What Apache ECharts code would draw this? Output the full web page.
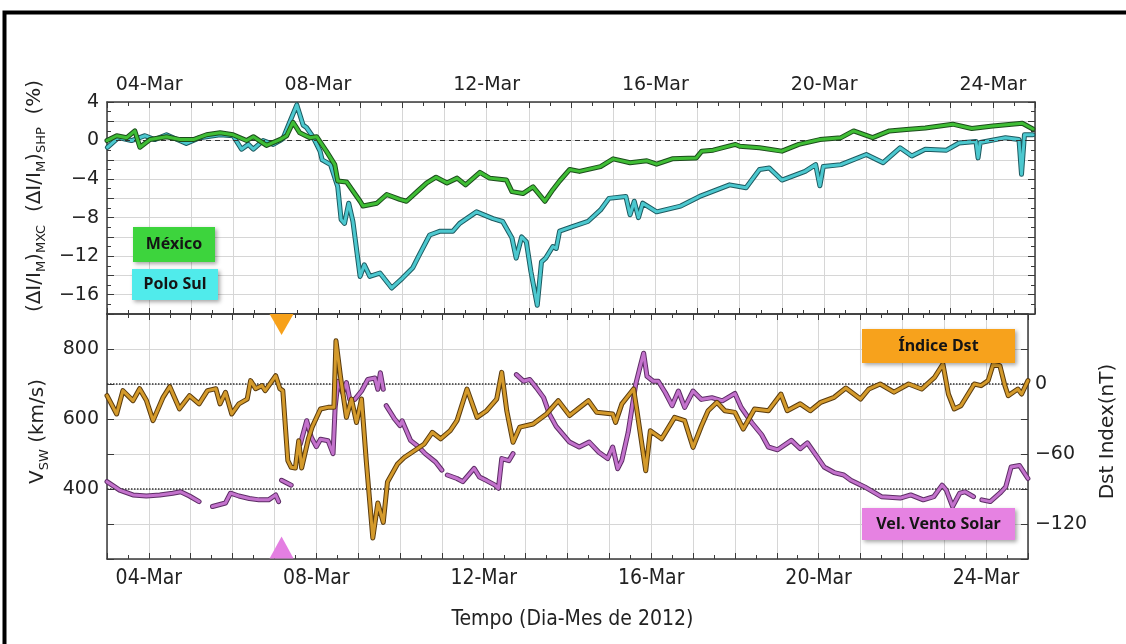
<!DOCTYPE html>
<html>
<head>
<meta charset="UTF-8">
<title>Raios cósmicos, Dst e vento solar - março de 2012</title>
<script src="https://cdn.jsdelivr.net/npm/echarts@6/dist/echarts.min.js"></script>
<style>
html, body{
	margin:0;
	padding:0;
	background:#fff;
}
#grafico{
	width:1126px;
	height:644px;
}
</style>
</head>
<body>
<div id="grafico"></div>
<script>
// dia de março (fracionário) e valor de cada curva
var mexDia = [3.00,3.23,3.47,3.66,3.78,4.02,4.41,4.73,5.05,5.36,5.68,5.99,6.31,6.47,6.78,7.10,7.26,7.41,7.57,7.81,7.97,8.20,8.40,8.47,8.68,9.00,9.07,9.40,9.63,9.94,10.10,10.35,10.58,10.80,11.06,11.30,11.50,11.84,12.07,12.47,12.60,12.86,13.10,13.38,13.57,13.73,13.97,14.20,14.70,15.00,15.40,15.80,16.03,16.40,16.97,17.10,17.37,17.90,18.00,18.47,19.00,19.40,19.90,20.40,20.70,21.15,21.55,21.95,22.40,23.05,23.50,24.00,24.70,24.95];
var mexVal = [0.0,0.5,0.3,1.0,-0.7,0.1,0.4,0.1,0.1,0.6,0.8,0.6,0.0,0.4,-0.5,0.1,0.5,1.9,0.8,0.3,0.4,-1.1,-2.5,-4.2,-4.3,-6.3,-6.8,-6.5,-5.6,-6.1,-6.3,-5.3,-4.4,-3.8,-4.4,-3.9,-4.6,-3.3,-3.9,-4.1,-5.3,-5.5,-4.8,-6.3,-5.1,-4.2,-3.0,-3.2,-2.7,-1.9,-2.3,-2.1,-2.45,-1.9,-1.8,-1.1,-1.0,-0.4,-0.6,-0.75,-1.1,-0.4,0.1,0.3,1.0,0.3,1.0,1.15,1.3,1.7,1.25,1.5,1.8,1.2];

var psDia = [3.01,3.27,3.58,3.90,4.13,4.41,4.88,5.20,5.68,5.99,6.19,6.35,6.47,6.70,6.94,7.10,7.17,7.33,7.50,7.65,7.73,7.88,8.05,8.10,8.30,8.47,8.55,8.63,8.73,8.83,9.00,9.10,9.23,9.47,9.75,10.00,10.25,10.40,10.65,10.90,11.20,11.36,11.76,12.15,12.38,12.60,12.70,12.83,12.94,13.05,13.20,13.30,13.40,13.57,13.65,13.73,14.05,14.40,14.70,14.90,15.30,15.40,15.50,15.60,15.70,16.03,16.60,17.05,17.76,18.15,18.47,18.70,19.00,19.55,19.80,19.90,19.98,20.40,21.00,21.40,21.80,22.08,22.40,22.90,23.20,23.60,23.65,23.70,24.30,24.62,24.68,24.75,24.95];
var psVal = [-0.7,0.3,0.0,0.5,0.1,0.6,-0.3,0.3,0.6,0.5,-0.9,-0.4,-0.9,0.0,-0.4,0.0,0.2,1.9,3.7,1.6,1.35,0.4,-1.1,-2.0,-2.5,-4.8,-8.2,-8.6,-6.5,-8.4,-14.1,-12.9,-14.1,-13.75,-15.3,-14.3,-13.2,-11.9,-9.8,-9.4,-9.4,-8.6,-7.4,-8.1,-8.4,-10.1,-12.2,-10.0,-10.5,-13.6,-17.1,-12.6,-12.2,-11.0,-11.2,-9.4,-8.9,-8.4,-7.2,-6.0,-5.8,-7.7,-6.3,-8.0,-6.5,-7.4,-6.8,-5.8,-4.6,-4.9,-3.0,-2.85,-4.1,-3.2,-2.5,-4.7,-2.7,-2.5,-1.45,-2.3,-0.75,-1.6,-0.9,-1.0,-0.25,-0.1,-1.8,-0.2,0.3,0.1,-3.5,0.6,0.6];

var dstDia = [3.00,3.23,3.38,3.62,3.78,3.94,4.10,4.34,4.50,4.73,4.97,5.20,5.40,5.60,5.70,5.83,5.98,6.15,6.35,6.43,6.55,6.70,6.78,7.03,7.13,7.20,7.32,7.40,7.50,7.58,7.65,7.81,7.90,8.10,8.28,8.42,8.47,8.58,8.72,8.84,8.96,9.08,9.20,9.35,9.47,9.60,9.70,9.94,10.10,10.35,10.58,10.77,10.97,11.20,11.36,11.60,11.84,12.07,12.31,12.43,12.55,12.70,12.86,13.18,13.50,13.78,14.05,14.50,14.70,15.08,15.15,15.30,15.58,15.66,15.87,15.98,16.25,16.56,16.80,17.00,17.20,17.36,17.57,17.76,18.00,18.20,18.47,18.80,19.10,19.25,19.56,19.80,20.05,20.37,20.65,21.00,21.20,21.47,21.80,22.15,22.46,22.77,22.97,23.10,23.24,23.40,23.72,23.88,24.05,24.17,24.33,24.45,24.53,24.76,24.85,25.00];
var dstVal = [-10,-25.7,-5.7,-14.3,-4,-14,-31.4,-11.4,-2.3,-21.3,-10,-17,-5.7,-4,-17,-7.1,-25.7,-17,-12.9,2.9,-4,-1.4,-5.7,7.1,-4,-5.7,-65.7,-71.4,-72,-48.6,-72,-47,-37,-21.4,-20,-20,37,5.7,-28.6,-12.9,-33,-12.9,-68.6,-132,-102,-118.6,-84,-68.6,-63,-57,-51.4,-41.4,-47,-40,-31.4,-4.3,-28.6,-22.9,-12.9,10,-22.9,-50,-37,-34.3,-25.7,-14.3,-27,-14.3,-24.3,-25.7,-32.9,-17,-4.3,-22.9,-74.3,-40,-47,-28.6,-31.4,-54.3,-36,-22.9,-15.7,-22.9,-24.3,-38.6,-21.4,-22.9,-8.6,-22.9,-17,-22.9,-15.7,-11.4,-3.4,-12.9,-4.3,0,-7,0,-4.3,5.7,17,-8.6,-21.4,-18.6,0,-1.4,2.9,17,15.7,-1.4,-10,-4.3,-8.6,2.9];

// null = falha nos dados do vento solar
var vswDia = [3.00,3.30,3.62,3.94,4.26,4.57,4.76,4.97,5.20,5.35,5.52,5.83,5.95,6.15,6.40,6.63,6.86,7.03,7.10,7.14,7.17,7.40,7.50,7.62,7.77,7.88,8.00,8.10,8.28,8.40,8.45,8.52,8.63,8.72,8.80,8.92,9.08,9.23,9.40,9.47,9.53,9.60,9.63,9.67,9.87,10.00,10.05,10.25,10.45,10.60,10.85,11.00,11.06,11.13,11.36,11.50,11.77,11.90,12.07,12.27,12.35,12.43,12.60,12.70,12.74,12.78,12.95,13.10,13.26,13.43,13.57,13.73,14.05,14.28,14.52,14.75,14.96,15.08,15.20,15.30,15.45,15.63,15.75,15.82,15.90,16.05,16.17,16.34,16.50,16.65,16.80,17.00,17.20,17.45,17.70,18.00,18.15,18.40,18.64,18.80,19.02,19.35,19.56,19.73,19.97,20.13,20.37,20.60,20.77,21.10,21.50,21.95,22.20,22.50,22.75,22.95,23.05,23.20,23.37,23.50,23.70,23.80,23.90,24.10,24.33,24.47,24.60,24.80,25.00];
var vswVal = [421,397,383,380,383,388,392,380,364,null,350,360,388,380,373,369,369,383,364,null,425,411,null,529,595,548,521,542,538,501,633,708,675,704,656,656,680,713,717,685,732,685,null,638,600,581,595,539,520,501,477,454,null,440,430,421,459,434,424,411,402,487,481,501,null,727,708,713,689,661,614,579,534,520,534,505,487,520,458,482,562,699,756,788,722,708,708,675,638,680,633,680,656,661,652,673,633,590,555,520,512,539,515,532,491,463,447,440,425,406,378,374,383,369,378,411,397,350,388,392,378,null,369,364,388,406,463,467,430];

// rótulos dos eixos
var diasRotulo = [4, 8, 12, 16, 20, 24];
var rotulosPct = [4, 0, -4, -8, -12, -16];
var rotulosVsw = [400, 600, 800];
var rotulosDst = [0, -60, -120];

// chegada do choque (triângulos) e linhas de referência
var eventoDia = 7.17;
var eventoVsw = [870, 233];
var refPct = [0];
var refVsw = [700, 400];

function pares(dias, vals){
	return dias.map(function(d, i){
		return [d, vals[i] == null ? '-' : vals[i]];
	});
}
function menos(v){
	return v < 0 ? '\u2212' + (-v) : String(v);
}
function rotuloDia(v){
	var d = Math.round(v);
	if(diasRotulo.indexOf(d) < 0) return '';
	return (d < 10 ? '0' + d : d) + '-Mar';
}

var corEixo = '#3a3a3a';
var corGrade = '#d6d6d6';
var fonte = '"DejaVu Sans", sans-serif';
var fonteEstreita = '"Liberation Sans Narrow", "DejaVu Sans Condensed", sans-serif';

function eixoX(grid, mostrarRotulo, pos, extra){
	var e = {
		type:'value', gridIndex:grid, min:3, max:25, interval:1, position:pos,
		axisLine:{show:true, onZero:false, lineStyle:{color:corEixo, width:1.5}},
		axisTick:{show:true, inside:true, length:6, lineStyle:{color:corEixo}},
		minorTick:{show:true, splitNumber:2, length:4, lineStyle:{color:corEixo}},
		splitLine:{show:false},
		axisLabel:{show:mostrarRotulo, formatter:rotuloDia, color:'#222'}
	};
	for(var k in extra) e[k] = extra[k];
	return e;
}

var rich = {
	n:{fontSize:20, fontFamily:fonte, color:'#222', lineHeight:26},
	s:{fontSize:13, fontFamily:fonte, color:'#222', lineHeight:13, verticalAlign:'bottom'}
};

function linha(nome, dados, xi, yi, cor, largura, z){
	return {
		name:nome, type:'line', data:dados, xAxisIndex:xi, yAxisIndex:yi,
		showSymbol:false, symbol:'none', connectNulls:false, silent:true, z:z,
		lineStyle:{color:cor, width:largura, join:'round', cap:'round'}
	};
}

function caixa(x, y, w, h, cor, texto){
	return [{
		type:'rect', shape:{x:x, y:y, width:w, height:h}, z:50,
		style:{fill:cor, shadowBlur:4, shadowOffsetX:2, shadowOffsetY:2, shadowColor:'rgba(0,0,0,0.35)'}
	},{
		type:'text', x:x + w / 2, y:y + h / 2, z:51,
		style:{text:texto, fill:'#151515', fontSize:16, fontWeight:'bold', fontFamily:'"Noto Sans", sans-serif', align:'center', verticalAlign:'middle'}
	}];
}

var dMex = pares(mexDia, mexVal);
var dPs = pares(psDia, psVal);
var dDst = pares(dstDia, dstVal);
var dVsw = pares(vswDia, vswVal);

var serieVsw = linha('Vel. Vento Solar', dVsw, 2, 2, '#c372cc', 3, 5);
serieVsw.markPoint = {
	silent:true, animation:false,
	label:{show:false},
	data:[
		{coord:[eventoDia, eventoVsw[0]], symbol:'triangle', symbolRotate:180, symbolSize:[24, 21], itemStyle:{color:'#f7a11a'}},
		{coord:[eventoDia, eventoVsw[1]], symbol:'triangle', symbolSize:[24, 22], itemStyle:{color:'#e47fe2'}}
	]
};
var contornoVsw = linha('', dVsw, 2, 2, '#5e2d66', 5, 4);
contornoVsw.markLine = {
	silent:true, symbol:'none', animation:false, label:{show:false},
	lineStyle:{color:'#333', type:'dotted', width:1.5},
	data:refVsw.map(function(v){ return {yAxis:v}; })
};
var contornoMex = linha('', dMex, 0, 0, '#1c4d1c', 5, 6);
contornoMex.markLine = {
	silent:true, symbol:'none', animation:false, label:{show:false},
	lineStyle:{color:'#333', type:[5, 4], width:1.2},
	data:refPct.map(function(v){ return {yAxis:v}; })
};

var option = {
	animation:false,
	backgroundColor:'#fff',
	textStyle:{fontFamily:fonte},
	grid:[
		{left:107, right:91, top:102, height:212},
		{left:107, right:91, top:314, height:245}
	],
	xAxis:[
		eixoX(0, true, 'top', {
			splitLine:{show:true, lineStyle:{color:corGrade, width:1}},
			axisLabel:{show:true, formatter:rotuloDia, color:'#222', fontSize:19, fontFamily:fonte, margin:7}
		}),
		eixoX(0, false, 'bottom', {}),
		eixoX(1, true, 'bottom', {
			splitLine:{show:true, lineStyle:{color:corGrade, width:1}},
			axisLabel:{show:true, formatter:rotuloDia, color:'#222', fontSize:21, fontFamily:fonteEstreita, margin:9},
			name:'Tempo (Dia-Mes de 2012)', nameLocation:'middle', nameGap:50,
			nameTextStyle:{fontSize:21, fontFamily:fonteEstreita, color:'#222', padding:[0, 0, 0, 10]}
		}),
		eixoX(1, false, 'top', {})
	],
	yAxis:[
		{
			type:'value', gridIndex:0, min:-18, max:4, interval:2, position:'left',
			axisLine:{show:true, onZero:false, lineStyle:{color:corEixo, width:1.5}},
			axisTick:{show:true, inside:true, length:7, lineStyle:{color:corEixo}},
			minorTick:{show:true, splitNumber:2, length:4, lineStyle:{color:corEixo}},
			splitLine:{show:true, lineStyle:{color:corGrade, width:1}},
			axisLabel:{
				color:'#222', fontSize:19, fontFamily:fonte, margin:8,
				formatter:function(v){ return rotulosPct.indexOf(v) < 0 ? '' : menos(v); }
			},
			name:'{n|(\u0394I/I}{s|M}{n|)}{s|MXC}{n|  (\u0394I/I}{s|M}{n|)}{s|SHP}{n|  (%)}',
			nameLocation:'middle', nameRotate:90, nameGap:58,
			nameTextStyle:{rich:rich, padding:[0, 0, 0, 24]}
		},
		{
			type:'value', gridIndex:0, min:-18, max:4, interval:2, position:'right',
			axisLine:{show:true, onZero:false, lineStyle:{color:corEixo, width:1.5}},
			axisTick:{show:true, inside:true, length:7, lineStyle:{color:corEixo}},
			minorTick:{show:true, splitNumber:2, length:4, lineStyle:{color:corEixo}},
			splitLine:{show:false},
			axisLabel:{show:false}
		},
		{
			type:'value', gridIndex:1, min:200, max:900, interval:100, position:'left',
			axisLine:{show:true, onZero:false, lineStyle:{color:corEixo, width:1.5}},
			axisTick:{show:true, inside:true, length:7, lineStyle:{color:corEixo}},
			splitLine:{show:true, lineStyle:{color:corGrade, width:1}},
			axisLabel:{
				color:'#222', fontSize:19, fontFamily:fonte, margin:8,
				formatter:function(v){ return rotulosVsw.indexOf(v) < 0 ? '' : String(v); }
			},
			name:'{n|V}{s|SW}{n| (km/s)}',
			nameLocation:'middle', nameRotate:90, nameGap:56,
			nameTextStyle:{rich:rich, padding:[0, 0, 0, 10]}
		},
		{
			type:'value', gridIndex:1, min:-150, max:60, interval:30, position:'right',
			axisLine:{show:true, onZero:false, lineStyle:{color:corEixo, width:1.5}},
			axisTick:{show:true, inside:true, length:7, lineStyle:{color:corEixo}},
			splitLine:{show:false},
			axisLabel:{
				color:'#222', fontSize:19, fontFamily:fonte, margin:7,
				formatter:function(v){ return rotulosDst.indexOf(v) < 0 ? '' : menos(v); }
			},
			name:'Dst Index(nT)',
			nameLocation:'middle', nameRotate:90, nameGap:70,
			nameTextStyle:{fontSize:20, fontFamily:fonte, color:'#222', padding:[0, 0, 0, 10]}
		}
	],
	series:[
		linha('', dPs, 0, 0, '#1d5a60', 5, 2),
		linha('Polo Sul', dPs, 0, 0, '#4cc8cf', 3, 3),
		contornoMex,
		linha('México', dMex, 0, 0, '#3fbd35', 3, 7),
		contornoVsw,
		serieVsw,
		linha('', dDst, 2, 3, '#5a3b0e', 5, 8),
		linha('Índice Dst', dDst, 2, 3, '#d49a2b', 3, 9)
	],
	graphic:[
		{type:'rect', shape:{x:4.5, y:12.5, width:1200, height:700}, z:100, silent:true,
			style:{fill:'none', stroke:'#000', lineWidth:4}}
	]
	.concat(caixa(133, 227, 82, 35, '#3dd43d', 'México'))
	.concat(caixa(132, 269, 86, 31, '#50ebeb', 'Polo Sul'))
	.concat(caixa(862, 329, 153, 34, '#f7a21c', 'Índice Dst'))
	.concat(caixa(862, 508, 153, 32, '#e682e2', 'Vel. Vento Solar'))
};

var grafico = echarts.init(document.getElementById('grafico'), null, {renderer:'canvas'});
grafico.setOption(option);
</script>
</body>
</html>
